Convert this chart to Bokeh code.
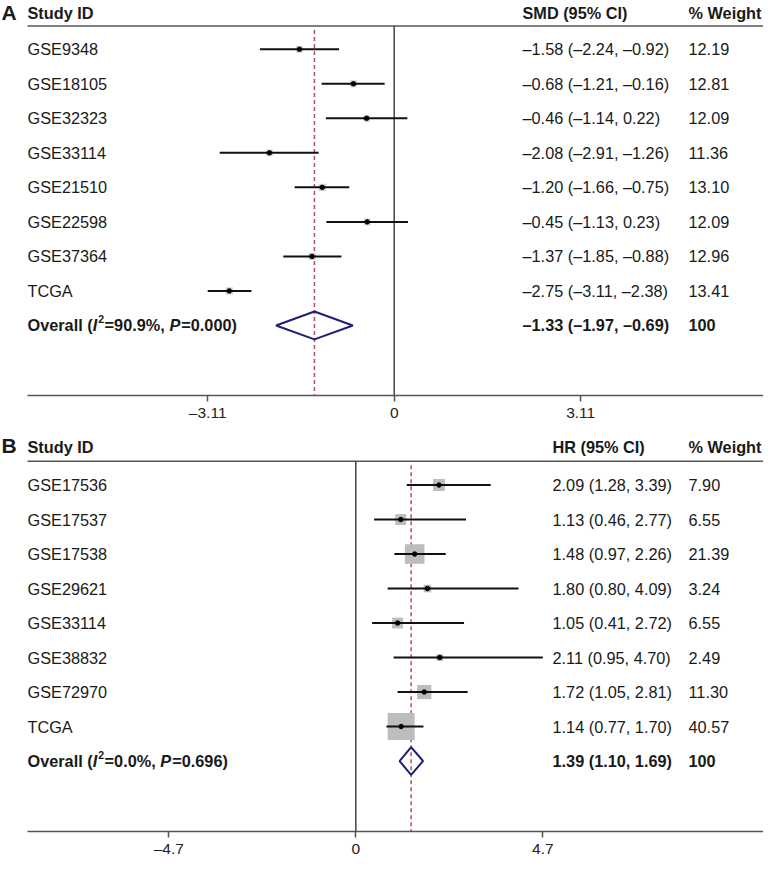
from bokeh.plotting import figure
from bokeh.layouts import column
from bokeh.models import Range1d, FixedTicker, ColumnDataSource
from bokeh.core.properties import value
from bokeh.embed import file_html
from bokeh.resources import INLINE

# ---------------- Panel A data (SMD) ----------------
studies_a = ["GSE9348", "GSE18105", "GSE32323", "GSE33114", "GSE21510", "GSE22598", "GSE37364", "TCGA"]
smd_a = [-1.58, -0.68, -0.46, -2.08, -1.20, -0.45, -1.37, -2.75]
lo_a = [-2.24, -1.21, -1.14, -2.91, -1.66, -1.13, -1.85, -3.11]
hi_a = [-0.92, -0.16, 0.22, -1.26, -0.75, 0.23, -0.88, -2.38]
weight_a = [12.19, 12.81, 12.09, 11.36, 13.10, 12.09, 12.96, 13.41]
overall_a = [-1.33, -1.97, -0.69]
i2_a = "90.9%"
p_a = "0.000"
ticks_a = [-3.11, 0, 3.11]
tick_labels_a = ["\u20133.11", "0", "3.11"]

# ---------------- Panel B data (HR) ----------------
studies_b = ["GSE17536", "GSE17537", "GSE17538", "GSE29621", "GSE33114", "GSE38832", "GSE72970", "TCGA"]
hr_b = [2.09, 1.13, 1.48, 1.80, 1.05, 2.11, 1.72, 1.14]
lo_b = [1.28, 0.46, 0.97, 0.80, 0.41, 0.95, 1.05, 0.77]
hi_b = [3.39, 2.77, 2.26, 4.09, 2.72, 4.70, 2.81, 1.70]
weight_b = [7.90, 6.55, 21.39, 3.24, 6.55, 2.49, 11.30, 40.57]
overall_b = [1.39, 1.10, 1.69]
i2_b = "0.0%"
p_b = "0.696"
ticks_b = [-4.7, 0, 4.7]
tick_labels_b = ["\u20134.7", "0", "4.7"]

FONT = "Liberation Sans"
FS = 16.3
TXT = "#1a1a1a"
AXC = "#555555"
W = 763

# bold Arial/Liberation widths (1/1000 em)
BW = {"O": 778, "v": 556, "e": 556, "r": 389, "a": 556, "l": 278, "(": 333, ")": 333,
      " ": 278, "=": 584, ".": 278, "%": 889, ",": 278, "I": 278, "P": 667}
for d in "0123456789":
    BW[d] = 556


def bw(s, size):
    return sum(BW[c] for c in s) * size / 1000.0


def fmt(v):
    return f"{v:.2f}".replace("-", "\u2013")


def make_panel(letter, eff_header, studies, est, lo, hi, wts, overall, i2, pval,
               ticks, tick_labels, H, ref_top, ref_axis, row0, step,
               zero_px, ppu, letter_y, hdr_text_y, hdr_line_y, eff_px, w_px,
               box_k, box_color):
    x_start = -zero_px / ppu
    x_end = (W - zero_px) / ppu

    def X(px):
        return (px - zero_px) / ppu

    def K(ref_y):
        return (ref_y - row0) / step

    y_top = K(ref_top)
    y_bot = K(ref_axis)
    mbb = int(round(H - (ref_axis - ref_top)))

    p = figure(width=W, height=H, x_range=Range1d(x_start, x_end),
               y_range=Range1d(y_bot, y_top), output_backend="svg",
               toolbar_location=None, y_axis_location=None,
               min_border_left=0, min_border_right=0, min_border_top=0,
               min_border_bottom=mbb)
    p.outline_line_color = None
    p.xgrid.visible = False
    p.ygrid.visible = False
    p.background_fill_color = "white"

    ax = p.xaxis[0]
    ax.ticker = FixedTicker(ticks=ticks)
    ax.major_label_overrides = {t: lab for t, lab in zip(ticks, tick_labels)}
    ax.bounds = (X(27), x_end)
    ax.axis_line_color = AXC
    ax.axis_line_width = 1.5
    ax.major_tick_line_color = AXC
    ax.major_tick_line_width = 1.5
    ax.major_tick_out = 6
    ax.major_tick_in = 0
    ax.minor_tick_out = 0
    ax.minor_tick_in = 0
    ax.major_label_standoff = 2
    ax.major_label_text_font = FONT
    ax.major_label_text_font_size = "15.5px"
    ax.major_label_text_color = "#222222"

    n = len(studies)
    rows = list(range(n))
    k_over = n

    # header line
    p.segment(x0=[X(27)], y0=[K(hdr_line_y)], x1=[x_end], y1=[K(hdr_line_y)],
              line_color=AXC, line_width=1.5)
    # null line
    p.segment(x0=[0], y0=[K(hdr_line_y)], x1=[0], y1=[y_bot],
              line_color="#444444", line_width=1.5)
    # overall dashed line
    p.segment(x0=[overall[0]], y0=[K(hdr_line_y + 4)], x1=[overall[0]], y1=[y_bot],
              line_color="#b0505a", line_width=1.5, line_dash="4 3")

    src = ColumnDataSource(dict(
        y=rows, est=est, lo=lo, hi=hi,
        side=[box_k * (w ** 0.5) for w in wts],
        name=studies,
        ci=[f"{fmt(e)} ({fmt(l)}, {fmt(h)})" for e, l, h in zip(est, lo, hi)],
        wt=[f"{w:.2f}" for w in wts],
    ))
    p.rect(x="est", y="y", width="side", height="side", width_units="screen",
           height_units="screen", source=src, fill_color=box_color, line_color=None)
    p.segment(x0="lo", y0="y", x1="hi", y1="y", source=src,
              line_color="#111111", line_width=2)
    p.scatter(x="est", y="y", source=src, marker="circle", size=4.5,
              fill_color="#000000", line_color="#000000")

    # overall diamond
    hh = 14.0 / step
    p.patch(x=[overall[1], overall[0], overall[2], overall[0]],
            y=[k_over, k_over - hh, k_over, k_over + hh],
            fill_color=None, line_color="#1f1f75", line_width=2)

    common = dict(text_font=value(FONT), text_baseline="middle", text_align="left",
                  text_color=TXT)
    p.text(x=X(27), y="y", text="name", source=src,
           text_font_size=value(f"{FS}px"), **common)
    p.text(x=X(eff_px), y="y", text="ci", source=src,
           text_font_size=value(f"{FS}px"), **common)
    p.text(x=X(w_px), y="y", text="wt", source=src,
           text_font_size=value(f"{FS}px"), **common)

    # headers
    hy = K(hdr_text_y)
    p.text(x=[X(1)], y=[K(letter_y)], text=[letter],
           text_font_size=value("21px"), text_font_style="bold", **common)
    for xx, s in [(X(27), "Study ID"), (X(eff_px), eff_header), (X(w_px), "% Weight")]:
        p.text(x=[xx], y=[hy], text=[s], text_font_size=value(f"{FS}px"),
               text_font_style="bold", **common)

    # overall row texts
    p.text(x=[X(eff_px)], y=[k_over],
           text=[f"{fmt(overall[0])} ({fmt(overall[1])}, {fmt(overall[2])})"],
           text_font_size=value(f"{FS}px"), text_font_style="bold", **common)
    p.text(x=[X(w_px)], y=[k_over], text=["100"],
           text_font_size=value(f"{FS}px"), text_font_style="bold", **common)

    pieces = [("Overall (", "bold", FS, 0, 0), ("I", "bold italic", FS, 0, 1),
              ("2", "bold", 10.5, -6, 0.5), (f"={i2}, ", "bold", FS, 0, 0),
              ("P", "bold italic", FS, 0, 1), (f"={pval})", "bold", FS, 0, 0)]
    off = 0.0
    for s, style, size, yo, extra in pieces:
        p.text(x=[X(27)], y=[k_over], text=[s], x_offset=off, y_offset=yo,
               text_font_size=value(f"{size}px"), text_font_style=style, **common)
        off += bw(s, size) + extra
    return p


pA = make_panel("A", "SMD (95% CI)", studies_a, smd_a, lo_a, hi_a, weight_a, overall_a,
                i2_a, p_a, ticks_a, tick_labels_a,
                H=423, ref_top=0, ref_axis=397, row0=49, step=34.7,
                zero_px=393.7, ppu=59.97, letter_y=12.5, hdr_text_y=13, hdr_line_y=25.7,
                eff_px=522, w_px=688, box_k=2.0, box_color="#d4d4d4")

pB = make_panel("B", "HR (95% CI)", studies_b, hr_b, lo_b, hi_b, weight_b, overall_b,
                i2_b, p_b, ticks_b, tick_labels_b,
                H=436, ref_top=439, ref_axis=850, row0=501, step=34.75,
                zero_px=355.3, ppu=39.79, letter_y=461.5, hdr_text_y=463, hdr_line_y=477,
                eff_px=552, w_px=688, box_k=4.24, box_color="#bdbdbd")

layout = column(pA, pB)
open("out.html", "w").write(file_html(layout, INLINE))
